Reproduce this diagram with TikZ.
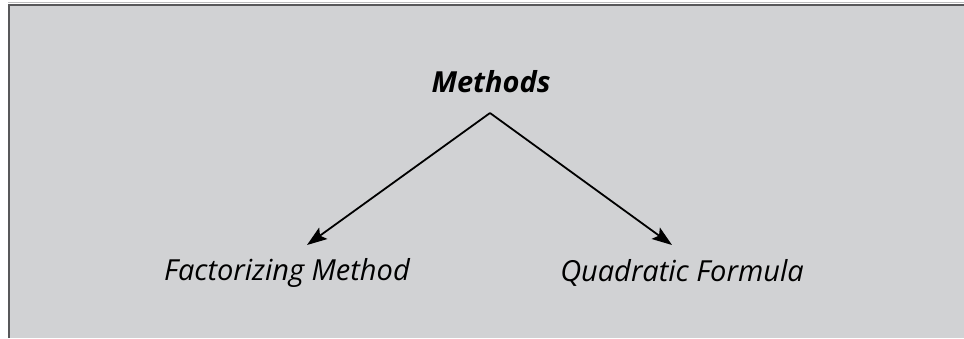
\documentclass[tikz,border=0pt]{standalone}
\usepackage{fontspec}
\setmainfont{Open Sans}
\usepackage{tikz}
\usetikzlibrary{arrows.meta}
\definecolor{panel}{RGB}{209,210,212}
\definecolor{rim}{RGB}{88,88,90}

\begin{document}
\begin{tikzpicture}[x=0.5pt,y=-0.5pt,every node/.style={inner sep=0pt},
  word/.style={font=\fontsize{14.5}{17}\selectfont\itshape},
  arrow/.style={line width=0.9pt,-{Stealth[length=10pt,width=7pt,inset=2pt]}}]
\useasboundingbox (0,0) rectangle (964,338);
% Panel
\fill[white] (0,0) rectangle (964,338);
\fill[panel] (8,4) rectangle (964,338);
\draw[rim,line width=1pt] (8.5,338) -- (8.5,4.5) -- (964,4.5);
\draw[rim!40,line width=0.6pt] (8,2.5) -- (964,2.5);

% Points
\node[word,font=\fontsize{14.5}{17}\selectfont\bfseries\itshape] (methods) at (491,82) {Methods};
\node[word] (fact) at (287,273) {Factorizing Method};
\node[word] (quad) at (682,273) {Quadratic Formula};
\coordinate (apex) at (490,113);
\coordinate (ltip) at (307,245);
\coordinate (rtip) at (672,245);

%Lines
\draw[arrow] (apex) -- (ltip);
\draw[arrow] (apex) -- (rtip);
\end{tikzpicture}
\end{document}
